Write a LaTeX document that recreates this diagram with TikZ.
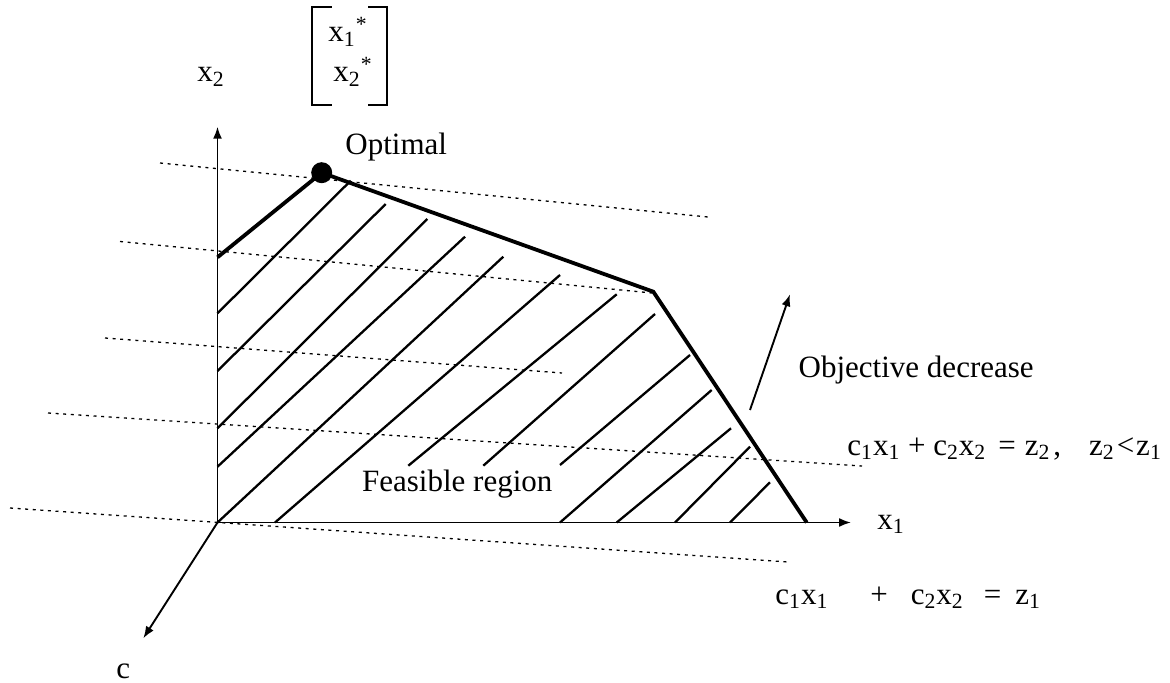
\documentclass[tikz,border=0pt]{standalone}
\usepackage{fontspec}
\setmainfont{Liberation Serif}
\usetikzlibrary{arrows.meta}
\begin{document}
\begin{tikzpicture}[x=0.5pt,y=-0.5pt,
  axis/.style={line width=0.95pt,-{Latex[length=6pt,width=4.5pt]}},
  edge/.style={line width=1.9pt,line join=miter},
  hatch/.style={line width=1.15pt},
  dots/.style={line width=0.65pt,dash pattern=on 1.5pt off 2.3pt},
  lbl/.style={inner sep=0pt,anchor=base west,font=\fontsize{15.5}{18}\selectfont},
  brk/.style={line width=1pt}]
\useasboundingbox (0,0) rectangle (1170,683);
% dotted objective lines
\foreach \ax/\ay/\bx/\by in {160/163/708/217, 120/241.5/652/293, 105/338/562/373, 48/413/862/466, 10/508/788/562}
  \draw[dots] (\ax,\ay) -- (\bx,\by);
% hatching
\foreach \ax/\ay/\bx/\by in {217.5/313.3/350.7/180.7, 217.5/371/385.7/204, 217.5/428.3/427.3/219,
  217.5/466.7/465/236.7, 217.5/522.5/503.3/256.7, 275/522.5/560/275,
  408.3/465.7/616.7/294.3, 483.3/465.7/655/314, 560/465/690/355,
  560/522.5/711.7/390, 616.7/522.5/731/428.3, 675/522.5/750/446.7, 730/522.5/770/482.3}
  \draw[hatch] (\ax,\ay) -- (\bx,\by);
% axes
\coordinate (O) at (217.5,522.5);
\coordinate (Y) at (217.5,126.7);
\coordinate (X) at (851,522.5);
\coordinate (C) at (143.3,638.3);
\draw[axis] (O) -- (Y);
\draw[axis] (O) -- (X);
\draw[axis] (O) -- (C);
% feasible region boundary
\coordinate (P1) at (217.5,257.3);
\coordinate (P3) at (653.3,291.7);
\coordinate (P4) at (806.7,522.5);
\node[circle,fill,inner sep=0pt,minimum size=10.5pt] (opt) at (321.7,172.7) {};
\draw[edge] (P1) -- (opt.center) -- (P3) -- (P4);
% objective direction
\coordinate (ot) at (750,410);
\coordinate (oh) at (790,294.3);
\draw[axis] (ot) -- (oh);
% bracket
\draw[brk] (331.7,7.3) -| (311.7,105) -- (331.7,105);
\draw[brk] (368.3,7.3) -| (387.3,105) -- (368.3,105);
% labels
\node[lbl] (x2lab) at (197,82) {x\textsubscript{2}};
\node[lbl] (xs1) at (328,42) {x\textsubscript{1}\textsuperscript{*}};
\node[lbl] (xs2) at (333,82) {x\textsubscript{2}\textsuperscript{*}};
\node[lbl] (optl) at (345,155) {Optimal};
\node[lbl] (feas) at (361.7,491.7) {Feasible region};
\node[lbl] (objl) at (798.3,378) {Objective decrease};
\node[lbl] (z2l) at (847,455) {c\textsubscript{1}x\textsubscript{1} + c\textsubscript{2}x\textsubscript{2}\hspace{6pt}=\hspace{4.5pt}z\textsubscript{2}\hspace{1.5pt},\hspace{14pt}z\textsubscript{2}\hspace{1pt}<\hspace{1pt}z\textsubscript{1}};
\node[lbl] (z1l) at (775,604) {c\textsubscript{1}x\textsubscript{1}\hspace{21pt}+\hspace{11.5pt}c\textsubscript{2}x\textsubscript{2}\hspace{10pt}=\hspace{7pt}z\textsubscript{1}};
\node[lbl] (x1lab) at (877,529) {x\textsubscript{1}};
\node[lbl] (clab) at (116,678.5) {c};
\end{tikzpicture}
\end{document}
